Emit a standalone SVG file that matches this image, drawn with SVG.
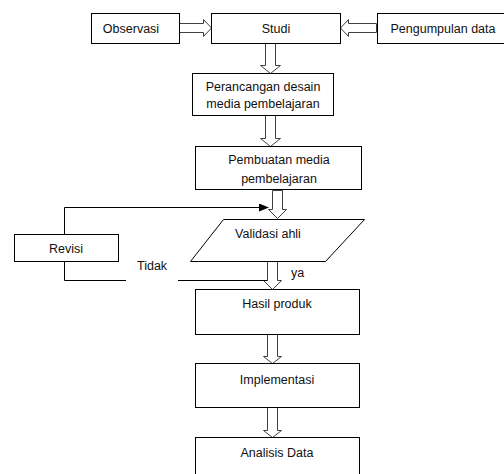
<svg xmlns="http://www.w3.org/2000/svg" width="504" height="474" viewBox="0 0 504 474">
<style>
.box{fill:#fff;stroke:#000;stroke-width:1}
.blk{fill:#fff;stroke:#404040;stroke-width:1;stroke-linejoin:miter}
.ln{fill:none;stroke:#000;stroke-width:1}
text{font-family:"Liberation Sans",Arial,sans-serif;font-size:12.5px;fill:#111}
.c{text-anchor:middle}
</style>
<defs>
<marker id="ah" markerWidth="10" markerHeight="8" refX="9" refY="4" orient="auto" markerUnits="userSpaceOnUse">
<path d="M0,0 L10,4 L0,8 Z" fill="#000"/>
</marker>
</defs>
<rect width="504" height="474" fill="#fff"/>
<g id="connectors">
<path class="blk" d="M179.5,23.5 L203.5,23.5 L203.5,19.5 L211.5,28 L203.5,36.5 L203.5,32.5 L179.5,32.5 Z"/>
<path class="blk" d="M376.5,23.5 L348.5,23.5 L348.5,19.5 L340.5,28 L348.5,36.5 L348.5,32.5 L376.5,32.5 Z"/>
<path class="blk" d="M265.5,43.5 L275.5,43.5 L275.5,65.5 L280.5,65.5 L270.5,73.5 L260.5,65.5 L265.5,65.5 Z"/>
<path class="blk" d="M265.5,115.5 L275.5,115.5 L275.5,138.5 L280.5,138.5 L270.5,146.5 L260.5,138.5 L265.5,138.5 Z"/>
<path class="blk" d="M272.5,190.5 L282.5,190.5 L282.5,209.5 L286.5,209.5 L277.5,218.5 L268.5,209.5 L272.5,209.5 Z"/>
<path class="blk" d="M267.5,261.5 L277.5,261.5 L277.5,280.5 L281.5,280.5 L272.5,289.5 L263.5,280.5 L267.5,280.5 Z"/>
<path class="blk" d="M267.5,334.5 L277.5,334.5 L277.5,356.5 L281.5,356.5 L272.5,363.5 L263.5,356.5 L267.5,356.5 Z"/>
<path class="blk" d="M267.5,407.5 L277.5,407.5 L277.5,430.5 L281.5,430.5 L272.5,437.5 L263.5,430.5 L267.5,430.5 Z"/>
<path class="ln" d="M64.5,234 L64.5,207.5 L268,207.5" marker-end="url(#ah)"/>
<path class="ln" d="M64.5,262 L64.5,280.5 L126,280.5"/>
<path class="ln" d="M178,280.5 L267.5,280.5"/>
<text x="137" y="270">Tidak</text>
<text x="291" y="277">ya</text>
</g>
<g id="observasi">
<rect class="box" x="91.5" y="13.5" width="88" height="30"/>
<text class="c" x="131" y="32.5">Observasi</text>
</g>
<g id="studi">
<rect class="box" x="211.5" y="13.5" width="129" height="30"/>
<text class="c" x="276" y="32.5">Studi</text>
</g>
<g id="pengumpulan">
<rect class="box" x="377.5" y="13.5" width="140" height="30"/>
<text class="c" x="443" y="32.5">Pengumpulan data</text>
</g>
<g id="perancangan">
<rect class="box" x="192.5" y="73.5" width="141" height="42"/>
<text class="c" x="263" y="91">Perancangan desain</text>
<text class="c" x="263" y="108">media pembelajaran</text>
</g>
<g id="pembuatan">
<rect class="box" x="195.5" y="146.5" width="166" height="43"/>
<text class="c" x="279" y="164">Pembuatan media</text>
<text class="c" x="279" y="183">pembelajaran</text>
</g>
<g id="validasi">
<path class="box" d="M223.5,219.5 L364.5,219.5 L325.5,261.5 L190.5,261.5 Z"/>
<text class="c" x="268" y="238">Validasi ahli</text>
</g>
<g id="revisi">
<rect class="box" x="14.5" y="234.5" width="104" height="27"/>
<text class="c" x="66" y="252.5">Revisi</text>
</g>
<g id="hasil">
<rect class="box" x="195.5" y="289.5" width="164" height="45"/>
<text class="c" x="277" y="308">Hasil produk</text>
</g>
<g id="implementasi">
<rect class="box" x="195.5" y="363.5" width="164" height="44"/>
<text class="c" x="277" y="384">Implementasi</text>
</g>
<g id="analisis">
<rect class="box" x="195.5" y="437.5" width="164" height="50"/>
<text class="c" x="277" y="457">Analisis Data</text>
</g>
</svg>
